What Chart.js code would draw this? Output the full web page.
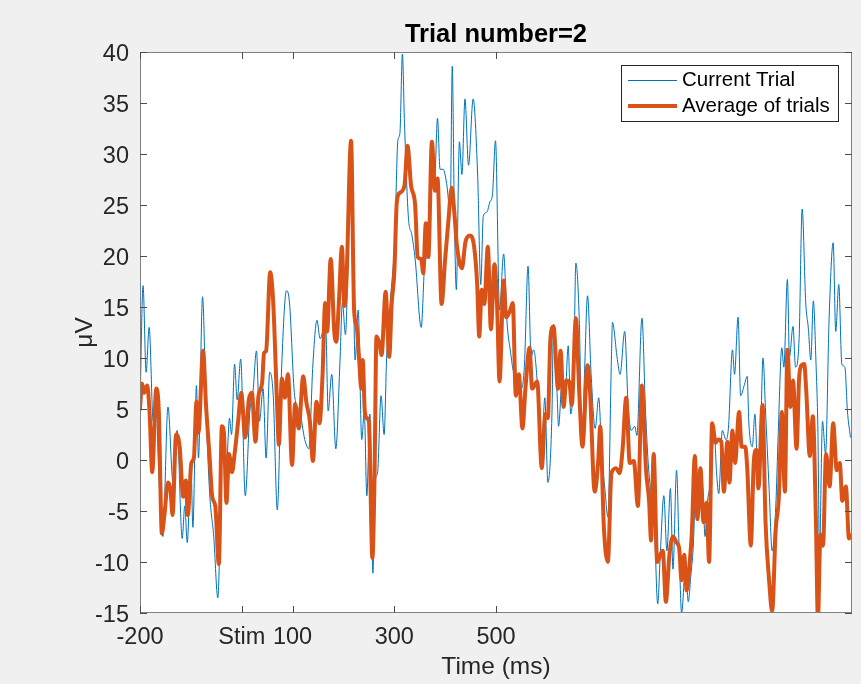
<!DOCTYPE html>
<html>
<head>
<meta charset="utf-8">
<title>Trial number=2</title>
<script src="https://cdn.jsdelivr.net/npm/chart.js@4.4.1/dist/chart.umd.min.js"></script>
<style>
  html, body { margin: 0; padding: 0; background: #f0f0f0; }
  #wrap { width: 861px; height: 684px; }
</style>
</head>
<body>
<div id="wrap"><canvas id="c" width="861" height="684"></canvas></div>
<script>
// ---------------- DATA ----------------
const chartTitle = 'Trial number=2';
const xAxisTitle = 'Time (ms)';
const yAxisTitle = 'μV';
const seriesNames = ['Current Trial', 'Average of trials'];

const xTickValues = [-200, 0, 100, 300, 500];
const xTickLabels = ['-200', 'Stim', '100', '300', '500'];
const yMin = -15, yMax = 40, yStep = 5;
const xMin = -200, xMax = 1200;

// Current trial (ms)
const trialTimes = [
-200,-194,-188,-182,-174,-168,-163,-155,-145,-135,-127,-117,-112,-107,-100,-96,-89,-85,-77,-70,
-63,-55,-47,-37,-30,-24,-20,-14,-9,-2,7,16,22,29,35,42,48,55,62,70,
78,88,94,104,114,124,132,140,148,154,165,170,177,185,193,198,204,215,223,229,
236,241,246,252,258,262,267,274,280,285,292,301,307,311,316,320,328,334,341,353,
360,367,374,379,385,390,396,403,410,414,418,422,428,433,439,446,455,464,470,475,
482,488,493,499,507,515,522,528,535,541,550,556,563,569,574,581,589,596,602,610,
613,620,623,630,635,642,647,653,657,664,669,674,680,687,695,702,708,714,720,727,
729,738,744,753,760,766,773,777,787,794,800,807,811,818,823,830,836,843,848,855,
860,865,873,878,883,889,893,899,906,911,916,922,929,934,938,945,952,957,965,969,
976,981,988,994,997,1004,1009,1014,1018,1025,1030,1037,1043,1050,1055,1062,1066,1073,1077,1084,
1089,1096,1102,1109,1114,1119,1124,1129,1133,1136,1142,1148,1155,1163,1168,1174,1180,1186,1191,1197
];
// Current trial (µV)
const trialValues = [
5.2,17.1,8.6,13.0,3.8,4.8,-1.5,-7.5,5.2,-2.2,2.9,-7.7,-4.5,-8.1,-0.1,-6.6,7.3,0.2,16.0,4.8,
-3.3,-7.5,-13.5,3.1,-0.5,4.1,2.5,9.4,5.9,9.9,-3.5,4.8,6.6,10.7,3.8,7.0,0.2,8.6,6.3,-4.9,
8.4,16.6,15.4,6.3,4.8,2.0,1.1,9.4,13.7,11.9,13.3,4.8,8.4,1.1,9.4,15.4,12.3,31.3,9.8,14.7,
2.0,4.8,-3.5,4.5,-11.1,-2.2,-1.3,6.3,2.5,10.1,15.4,21.8,31.3,32.0,39.8,33.1,23.6,22.2,19.7,13.0,
19.3,20.7,31.3,27.1,33.5,28.5,28.5,27.1,24.3,38.6,24.3,16.7,31.2,28.0,35.4,28.9,35.4,27.8,17.2,23.9,
24.3,25.3,26.0,31.3,14.7,20.2,13.3,10.8,8.6,8.4,7.0,9.4,19.0,10.1,10.8,7.7,-0.1,6.1,-2.2,4.5,
13.3,6.6,3.3,7.7,5.2,11.2,4.5,9.1,19.3,13.3,1.3,8.4,16.1,8.4,3.1,6.1,0.4,-2.8,-5.6,10.1,
13.5,10.1,8.4,12.6,5.2,2.9,3.3,2.4,13.9,4.8,-0.8,-4.0,-5.8,-14.1,-9.3,-3.5,-8.9,-2.8,-10.7,-1.0,
-8.6,-15.0,-10.0,-13.9,-11.4,-7.2,0.2,-5.4,-2.6,-7.5,-4.0,-2.2,2.7,-1.5,-3.3,2.9,2.0,3.1,10.8,8.4,
14.0,6.3,7.3,8.2,3.8,1.3,4.5,-0.5,-1.5,10.0,4.8,-2.8,-8.9,-4.7,2.7,11.0,9.1,17.7,10.1,13.1,
9.1,11.9,24.6,15.4,13.0,9.8,15.6,9.8,2.7,-9.3,3.8,0.6,13.9,21.3,12.6,17.2,9.4,9.1,4.8,2.2
];

// Average of trials (ms)
const avgTimes = [
-200,-196,-192,-186,-181,-176,-168,-163,-157,-152,-145,-140,-136,-129,-122,-115,-110,-106,-99,-94,
-89,-85,-76,-70,-63,-58,-52,-45,-39,-35,-30,-25,-19,-14,-7,-1,7,14,20,27,
33,40,44,48,56,62,70,73,79,85,91,99,105,112,121,127,134,140,147,153,
159,164,168,175,182,186,191,197,202,206,215,221,226,231,235,238,242,246,250,257,
261,265,271,275,283,290,295,300,305,311,320,326,333,341,346,353,357,362,367,374,
380,385,393,400,406,413,418,423,433,440,449,457,463,467,472,477,484,490,497,502,
507,515,520,528,533,539,545,552,558,566,571,581,590,597,602,607,613,622,627,633,
638,644,649,657,664,670,680,685,694,701,705,712,720,727,736,743,749,756,763,771,
779,787,795,801,805,810,817,823,828,834,841,848,855,860,865,870,875,881,885,891,
896,902,908,914,919,925,932,937,943,948,955,959,965,970,978,983,990,994,1001,1007,
1012,1016,1024,1030,1037,1043,1050,1056,1062,1068,1073,1079,1084,1091,1096,1101,1106,1110,1117,1123,
1129,1133,1138,1143,1149,1156,1163,1170,1176,1181,1188,1194,1198
];
// Average of trials (µV)
const avgValues = [
5.0,7.5,6.6,7.3,4.5,-1.2,7.0,4.8,-7.2,-5.4,-2.2,-2.9,-5.4,2.5,1.3,-3.6,-2.0,-5.4,-0.3,0.2,
5.7,2.7,10.7,5.2,0.2,-3.6,-4.5,-10.2,3.3,2.7,-4.2,0.6,-1.2,0.6,3.8,6.6,2.2,5.9,6.6,1.8,
6.3,7.5,10.5,10.7,18.4,15.4,4.8,1.5,8.0,6.1,8.4,-0.5,5.5,3.1,8.2,5.7,3.8,-0.1,5.7,3.6,
8.4,15.4,12.6,19.7,12.6,11.6,15.4,20.9,15.1,17.6,31.3,14.7,13.1,9.8,7.0,9.8,4.8,4.1,3.8,-9.6,
-2.2,12.1,11.4,10.3,16.5,10.1,15.4,18.3,25.3,26.2,26.9,30.8,26.9,25.0,19.9,19.7,18.3,23.2,19.9,31.2,
26.4,27.6,15.3,19.7,23.2,26.7,24.3,21.1,18.8,21.4,22.0,20.9,17.2,12.1,16.7,15.3,20.9,12.8,19.2,15.4,
7.7,17.6,14.0,14.7,15.4,6.3,8.4,3.1,7.1,11.0,7.0,7.7,-0.8,4.5,4.1,11.9,13.1,7.0,10.7,5.2,
7.8,7.7,5.4,13.9,6.3,1.3,9.3,6.6,-3.1,-0.1,3.3,-6.5,-10.0,-1.3,-0.8,-1.3,1.1,6.1,-0.3,-0.1,
-4.5,7.3,-1.0,-4.0,-7.9,0.6,-10.0,-9.3,-8.9,-13.9,-9.3,-7.5,-8.1,-8.6,-11.8,-9.3,-12.8,-10.0,-7.2,0.4,
-5.8,-0.8,-6.1,-4.2,-10.0,3.6,1.7,2.0,1.8,-3.1,1.8,-2.2,2.9,-0.3,4.7,1.3,1.3,-0.8,-8.4,-0.1,
1.0,-2.8,5.4,-6.1,-11.8,-14.8,-6.8,-3.8,4.7,-3.1,10.8,5.2,7.8,1.1,8.0,9.3,9.4,6.8,0.4,4.3,
-5.8,-15.6,-7.3,-8.4,0.6,-2.6,3.6,-1.0,-0.3,-4.0,-2.6,-7.7,-7.4
];

// ---------------- STYLE ----------------
const FONT = '"Liberation Sans", Arial, Helvetica, sans-serif';
const TEXT = '#262626';
const AXIS = '#808080';
const BLUE = '#0072BD';
const ORANGE = '#D95319';

const toXY = (ts, vs) => ts.map((t, i) => ({ x: t, y: vs[i] }));

const matlabDecor = {
  id: 'matlabDecor',
  beforeDraw(chart) {
    const { ctx, chartArea: a } = chart;
    ctx.save();
    ctx.fillStyle = '#f0f0f0';
    ctx.fillRect(0, 0, chart.width, chart.height);
    ctx.fillStyle = '#ffffff';
    ctx.fillRect(a.left, a.top, a.right - a.left, a.bottom - a.top);
    ctx.restore();
  },
  afterDraw(chart) {
    const { ctx, chartArea: a, scales } = chart;
    ctx.save();
    // frame
    ctx.strokeStyle = AXIS;
    ctx.lineWidth = 1;
    ctx.strokeRect(a.left + 0.5, a.top + 0.5, a.right - a.left - 1, a.bottom - a.top - 1);
    // inward ticks
    const tl = 7;
    ctx.strokeStyle = '#4d4d4d';
    ctx.beginPath();
    scales.y.ticks.forEach(t => {
      const y = Math.round(scales.y.getPixelForValue(t.value)) + 0.5;
      ctx.moveTo(a.left, y); ctx.lineTo(a.left + tl, y);
      ctx.moveTo(a.right, y); ctx.lineTo(a.right - tl, y);
    });
    scales.x.ticks.forEach(t => {
      const x = Math.round(scales.x.getPixelForValue(t.value)) + 0.5;
      ctx.moveTo(x, a.bottom); ctx.lineTo(x, a.bottom - tl);
      ctx.moveTo(x, a.top); ctx.lineTo(x, a.top + tl);
    });
    ctx.stroke();

    // title
    const cx = (a.left + a.right) / 2;
    ctx.fillStyle = '#000000';
    ctx.font = 'bold 25.5px ' + FONT;
    ctx.textAlign = 'center';
    ctx.textBaseline = 'middle';
    ctx.fillText(chartTitle, cx, 35);

    // x axis title
    ctx.fillStyle = TEXT;
    ctx.font = '24.5px ' + FONT;
    ctx.fillText(xAxisTitle, cx, 667);

    // y axis title
    ctx.save();
    ctx.translate(85, (a.top + a.bottom) / 2);
    ctx.rotate(-Math.PI / 2);
    ctx.fillText(yAxisTitle, 0, 0);
    ctx.restore();

    // legend
    const lx = 621.5, ly = 65.5, lw = 217, lh = 56;
    ctx.fillStyle = '#ffffff';
    ctx.fillRect(lx, ly, lw, lh);
    ctx.strokeStyle = TEXT;
    ctx.lineWidth = 1;
    ctx.strokeRect(lx, ly, lw, lh);
    const rows = [80.5, 106];
    chart.data.datasets.forEach((ds, i) => {
      ctx.beginPath();
      ctx.strokeStyle = ds.borderColor;
      ctx.lineWidth = ds.borderWidth;
      ctx.moveTo(628, rows[i]);
      ctx.lineTo(677, rows[i]);
      ctx.stroke();
      ctx.fillStyle = '#000000';
      ctx.font = '20.5px ' + FONT;
      ctx.textAlign = 'left';
      ctx.textBaseline = 'middle';
      ctx.fillText(ds.label, 682, rows[i]);
    });
    ctx.restore();
  }
};

new Chart(document.getElementById('c'), {
  type: 'line',
  data: {
    datasets: [
      {
        label: seriesNames[0],
        data: toXY(trialTimes, trialValues),
        borderColor: BLUE,
        borderWidth: 1,
        pointRadius: 0,
        cubicInterpolationMode: 'monotone',
        clip: 0,
        order: 2
      },
      {
        label: seriesNames[1],
        data: toXY(avgTimes, avgValues),
        borderColor: ORANGE,
        borderWidth: 4,
        pointRadius: 0,
        cubicInterpolationMode: 'monotone',
        borderJoinStyle: 'round',
        borderCapStyle: 'round',
        clip: 0,
        order: 1
      }
    ]
  },
  options: {
    responsive: false,
    animation: false,
    devicePixelRatio: 1,
    layout: { padding: { top: 52, right: 9, left: 0, bottom: 0 } },
    plugins: { legend: { display: false }, title: { display: false }, tooltip: { enabled: false } },
    scales: {
      x: {
        type: 'linear',
        min: xMin, max: xMax,
        grid: { display: false, drawTicks: false },
        border: { display: false },
        afterBuildTicks: (scale) => { scale.ticks = xTickValues.map(v => ({ value: v })); },
        afterFit: (scale) => { scale.height = 71; },
        ticks: {
          autoSkip: false,
          maxRotation: 0,
          padding: 10,
          color: TEXT,
          font: { family: FONT, size: 23.5 },
          callback: (v) => { const i = xTickValues.indexOf(v); return i >= 0 ? xTickLabels[i] : ''; }
        }
      },
      y: {
        type: 'linear',
        min: yMin, max: yMax,
        grid: { display: false, drawTicks: false },
        border: { display: false },
        afterFit: (scale) => { scale.width = 140; },
        ticks: {
          stepSize: yStep,
          padding: 11,
          labelOffset: 3,
          color: TEXT,
          font: { family: FONT, size: 23.5 }
        }
      }
    }
  },
  plugins: [matlabDecor]
});
</script>
</body>
</html>
